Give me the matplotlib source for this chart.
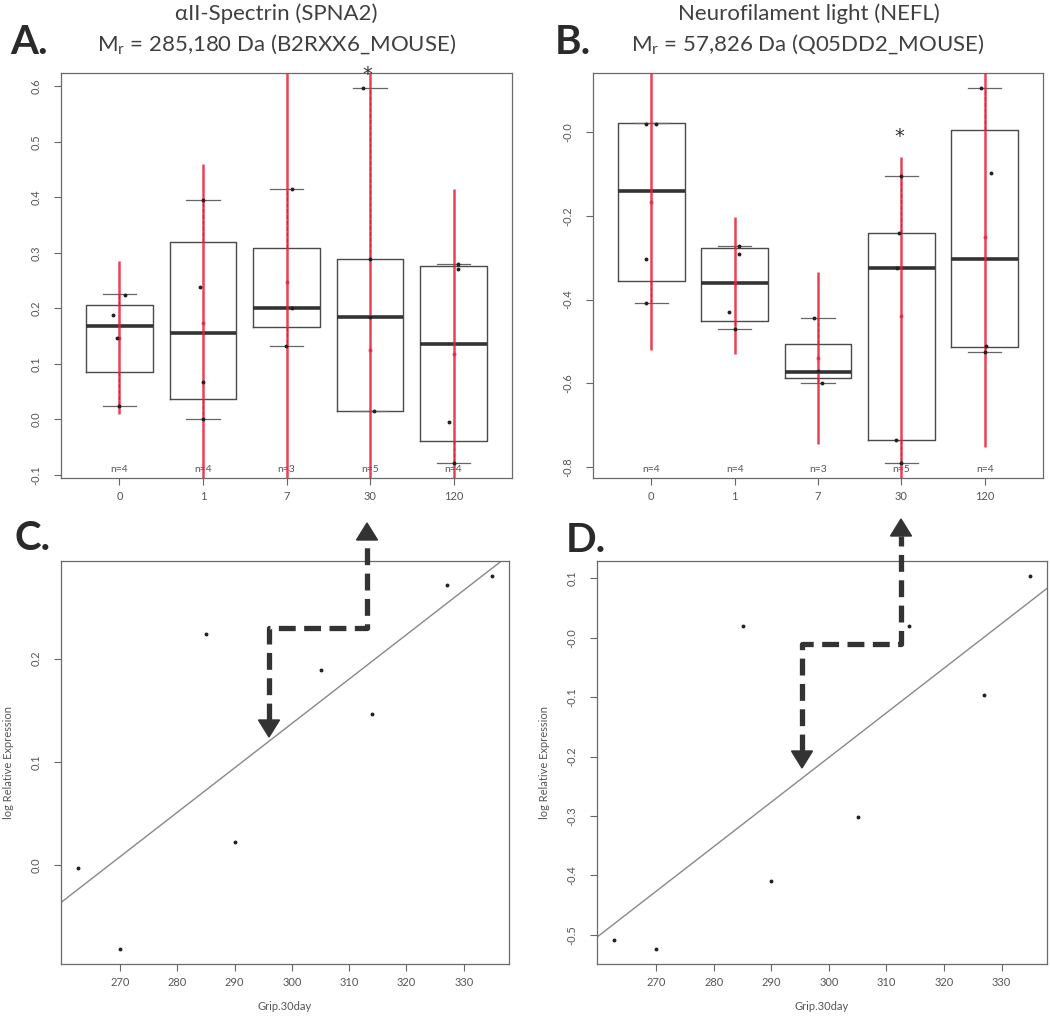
import numpy as np
import matplotlib
matplotlib.use("Agg")
import matplotlib.pyplot as plt
from matplotlib.lines import Line2D
from matplotlib.patches import Polygon

plt.rcParams['font.family'] = ['Lato', 'DejaVu Sans']
plt.rcParams['mathtext.default'] = 'regular'

W, H = 1050, 1028

# ---- data: boxplots A (SPNA2) and B (NEFL) ----
groups = ['0', '1', '7', '30', '120']
n_labels = ['n=4', 'n=4', 'n=3', 'n=5', 'n=4']

# whisker low, q1, median, q3, whisker high
a_whislo = [0.023, 0.000, 0.132, 0.014, -0.079]
a_q1 = [0.085, 0.036, 0.166, 0.014, -0.040]
a_med = [0.168, 0.155, 0.200, 0.184, 0.135]
a_q3 = [0.206, 0.319, 0.309, 0.289, 0.276]
a_whishi = [0.226, 0.395, 0.415, 0.597, 0.280]
a_red_lo = [0.010, -0.110, -0.200, -0.430, -0.180]
a_red_hi = [0.285, 0.460, 0.700, 0.670, 0.415]
a_mean = [0.147, 0.174, 0.247, 0.124, 0.117]
a_pts = [[0.188, 0.224, 0.146, 0.023],
         [0.395, 0.238, 0.067, 0.000],
         [0.415, 0.200, 0.132],
         [0.597, 0.289, 0.184, 0.014],
         [0.280, 0.270, -0.005, -0.079]]
a_jit = [[-0.08, 0.07, -0.03, 0.0],
         [0.0, -0.03, 0.0, 0.0],
         [0.07, 0.07, -0.01],
         [-0.08, 0.0, 0.0, 0.05],
         [0.05, 0.05, -0.06, 0.0]]
a_star = 0.621

b_whislo = [-0.409, -0.471, -0.600, -0.790, -0.524]
b_q1 = [-0.356, -0.452, -0.588, -0.734, -0.514]
b_med = [-0.141, -0.361, -0.572, -0.325, -0.302]
b_q3 = [0.022, -0.278, -0.507, -0.241, 0.005]
b_whishi = [0.022, -0.273, -0.445, -0.105, 0.105]
b_red_lo = [-0.520, -0.529, -0.745, -0.850, -0.753]
b_red_hi = [0.180, -0.203, -0.335, -0.060, 0.250]
b_mean = [-0.168, -0.360, -0.540, -0.440, -0.250]
b_pts = [[0.020, 0.020, -0.304, -0.409],
         [-0.273, -0.290, -0.430, -0.471],
         [-0.445, -0.570, -0.600],
         [-0.105, -0.241, -0.325, -0.734, -0.790],
         [0.105, -0.098, -0.510, -0.524]]
b_jit = [[-0.07, 0.05, -0.07, -0.07],
         [0.05, 0.05, -0.07, 0.0],
         [-0.05, 0.0, 0.05],
         [0.0, -0.03, -0.05, -0.07, 0.0],
         [-0.05, 0.07, 0.02, 0.0]]
b_star = -0.010

# ---- data: scatter C and D ----
grip = [262.6, 270.0, 285.0, 290.0, 305.0, 314.0, 327.0, 335.0]
c_expr = [-0.003, -0.081, 0.224, 0.023, 0.189, 0.146, 0.271, 0.280]
d_expr = [-0.508, -0.524, 0.020, -0.410, -0.302, 0.020, -0.097, 0.104]

GRAY = '#555555'
RED = '#e8203a'


def fx(x):
    return x / W


def fy(y):
    return 1 - y / H


def style_axes(ax):
    for s in ax.spines.values():
        s.set_color('#6a6a6a')
        s.set_linewidth(0.9)
    ax.tick_params(axis='both', direction='out', length=5, width=0.8,
                   color='#666666', labelcolor=GRAY, labelsize=8)
    ax.tick_params(axis='y', labelrotation=90, pad=9)
    ax.tick_params(axis='x', pad=4)
    for lab in ax.get_yticklabels():
        lab.set_va('center')


def r_lim(lo, hi):
    d = (hi - lo) * 0.04
    return lo - d, hi + d


def box_panel(ax, whislo, q1, med, q3, whishi, red_lo, red_hi, mean,
              pts, jit, star, yticks):
    pos = np.arange(1, len(groups) + 1)
    stats = []
    for i in range(len(groups)):
        stats.append(dict(whislo=whislo[i], q1=q1[i], med=med[i],
                          q3=q3[i], whishi=whishi[i], fliers=[]))
    ax.bxp(stats, positions=pos, widths=0.8, showfliers=False,
           boxprops=dict(color='#4a4a4a', linewidth=1.0),
           medianprops=dict(color='#333333', linewidth=2.6),
           whiskerprops=dict(color='#444444', linewidth=0.8, linestyle='--'),
           capprops=dict(color='#666666', linewidth=0.9), capwidths=0.4)
    ax.vlines(pos, red_lo, red_hi, color=RED, linewidth=1.8, alpha=0.85,
              zorder=4)
    ax.plot(pos, mean, 'o', color=RED, markersize=2, alpha=0.6, zorder=5)
    for i in range(len(groups)):
        ax.plot(pos[i] + np.array(jit[i]), pts[i], 'o', color='#222222',
                markersize=1.8, zorder=6)
    ax.text(pos[3] - 0.03, star, '*', ha='center', va='center',
            fontsize=14, color='#333333', zorder=7, family='DejaVu Sans')
    for i in range(len(groups)):
        ax.text(pos[i], 0.02, n_labels[i], transform=ax.get_xaxis_transform(),
                ha='center', va='center', fontsize=7.5, color=GRAY)
    ax.set_xlim(0.3, 5.7)
    ax.set_ylim(*r_lim(min(whislo), max(whishi)))
    ax.set_xticks(pos)
    ax.set_xticklabels(groups)
    ax.set_yticks(yticks)
    ax.set_yticklabels(['%.1f' % t for t in yticks])
    style_axes(ax)


def scatter_panel(ax, x, y, yticks):
    x = np.array(x)
    y = np.array(y)
    xl = r_lim(x.min(), x.max())
    ax.plot(x, y, 'o', color='#222222', markersize=1.8)
    k, b = np.polyfit(x, y, 1)
    xx = np.array(xl)
    ax.plot(xx, k * xx + b, color='#888888', linewidth=1.0)
    ax.set_xlim(*xl)
    ax.set_ylim(*r_lim(y.min(), y.max()))
    ax.set_xticks([270, 280, 290, 300, 310, 320, 330])
    ax.set_yticks(yticks)
    ax.set_yticklabels(['%.1f' % t for t in yticks])
    ax.set_xlabel('Grip.30day', fontsize=8, color=GRAY, labelpad=10)
    ax.set_ylabel('log Relative Expression', fontsize=8, color=GRAY,
                  labelpad=12)
    style_axes(ax)


fig = plt.figure(figsize=(W / 100, H / 100), dpi=100)

axA = fig.add_axes([fx(61), fy(478), fx(512 - 61), (478 - 73) / H])
axB = fig.add_axes([fx(593), fy(478), fx(1043 - 593), (478 - 73) / H])
axC = fig.add_axes([fx(61), fy(964), fx(509 - 61), (964 - 561) / H])
axD = fig.add_axes([fx(597), fy(964), fx(1047 - 597), (964 - 561) / H])

box_panel(axA, a_whislo, a_q1, a_med, a_q3, a_whishi, a_red_lo, a_red_hi,
          a_mean, a_pts, a_jit, a_star, np.round(np.arange(-0.1, 0.61, 0.1), 1))
box_panel(axB, b_whislo, b_q1, b_med, b_q3, b_whishi, b_red_lo, b_red_hi,
          b_mean, b_pts, b_jit, b_star, np.round(np.arange(-0.8, 0.01, 0.2), 1))
scatter_panel(axC, grip, c_expr, [0.0, 0.1, 0.2])
scatter_panel(axD, grip, d_expr, np.round(np.arange(-0.5, 0.11, 0.1), 1))

# titles and panel letters
tcol = '#404040'
fig.text(fx(276), fy(14), 'αII-Spectrin (SPNA2)', ha='center', va='center',
         fontsize=16, color=tcol)
fig.text(fx(277), fy(44), 'M$_r$ = 285,180 Da (B2RXX6_MOUSE)', ha='center',
         va='center', fontsize=16, color=tcol)
fig.text(fx(809), fy(14), 'Neurofilament light (NEFL)', ha='center',
         va='center', fontsize=16, color=tcol)
fig.text(fx(808), fy(44), 'M$_r$ = 57,826 Da (Q05DD2_MOUSE)', ha='center',
         va='center', fontsize=16, color=tcol)
for lab, x, y in [('A.', 10, 43), ('B.', 555, 43), ('C.', 15, 539),
                  ('D.', 566, 540)]:
    fig.text(fx(x), fy(y), lab, ha='left', va='center', fontsize=29,
             fontweight='bold', color='#2a2a2a')

# dashed connector arrows (figure pixels)
acol = '#333333'


def connector(x_down, x_up, y_mid, tip_down, tip_up):
    hl = 17
    xs = [x_down, x_down, x_up, x_up]
    ys = [tip_down - hl, y_mid, y_mid, tip_up + hl]
    fig.add_artist(Line2D([fx(v) for v in xs], [fy(v) for v in ys],
                          color=acol, linewidth=3.8, linestyle=(0, (3.2, 1.6)),
                          transform=fig.transFigure))
    hw = 10.5
    fig.add_artist(Polygon([[fx(x_down - hw), fy(tip_down - hl)],
                            [fx(x_down + hw), fy(tip_down - hl)],
                            [fx(x_down), fy(tip_down)]],
                           closed=True, color=acol, transform=fig.transFigure))
    fig.add_artist(Polygon([[fx(x_up - hw), fy(tip_up + hl)],
                            [fx(x_up + hw), fy(tip_up + hl)],
                            [fx(x_up), fy(tip_up)]],
                           closed=True, color=acol, transform=fig.transFigure))


connector(269, 367, 628, 737, 523)
connector(802, 901, 644, 768, 519)

fig.savefig('out.png', dpi=100, facecolor='white')
